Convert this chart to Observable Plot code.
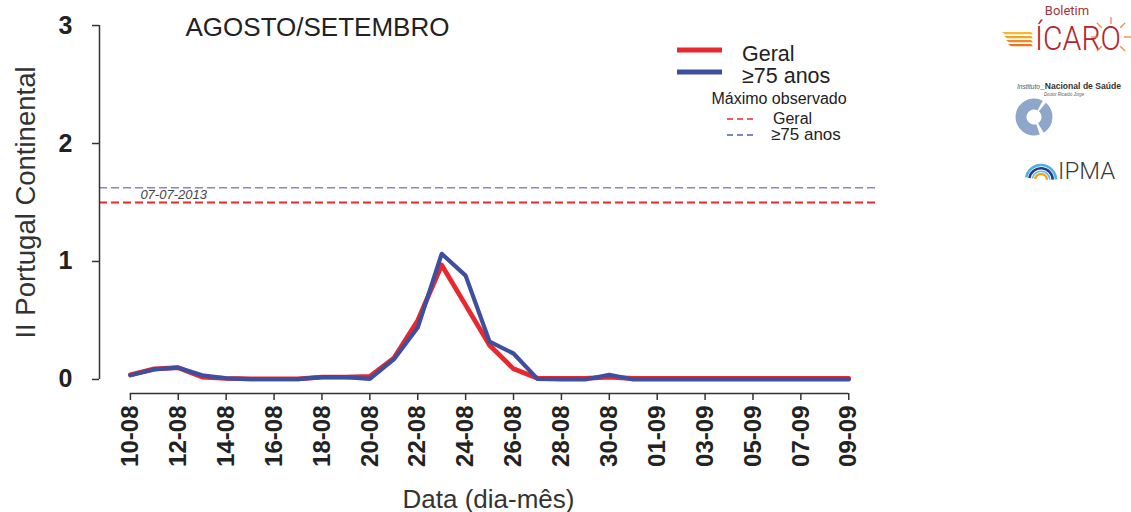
<!DOCTYPE html>
<html><head><meta charset="utf-8">
<script src="https://cdn.jsdelivr.net/npm/d3@7"></script>
<script src="https://cdn.jsdelivr.net/npm/@observablehq/plot@0.6"></script>
<style>
body{margin:0;background:#fff;font-family:"Liberation Sans",Arial,sans-serif;}
#wrap{position:relative;width:1131px;height:512px;overflow:hidden;background:#fff}
#wrap > svg{position:absolute;left:0;top:0}
</style></head><body><div id="wrap"></div>
<script>
// ---- data ----
const days = ["10-08","11-08","12-08","13-08","14-08","15-08","16-08","17-08","18-08","19-08","20-08",
  "21-08","22-08","23-08","24-08","25-08","26-08","27-08","28-08","29-08","30-08","31-08",
  "01-09","02-09","03-09","04-09","05-09","06-09","07-09","08-09","09-09"];
const geral = [0.04,0.09,0.10,0.02,0.01,0.005,0.005,0.005,0.02,0.02,0.025,
  0.18,0.50,0.97,0.63,0.29,0.09,0.01,0.01,0.01,0.02,0.008,
  0.008,0.008,0.008,0.008,0.008,0.008,0.008,0.008,0.008];
const idosos = [0.035,0.085,0.10,0.035,0.01,0.003,0.003,0.003,0.02,0.02,0.005,
  0.17,0.44,1.065,0.88,0.32,0.22,0.005,0,0,0.04,0,
  0,0,0,0,0,0,0,0,0];
const tickLabels = ["10-08","12-08","14-08","16-08","18-08","20-08","22-08","24-08","26-08",
  "28-08","30-08","01-09","03-09","05-09","07-09","09-09"];
const yTicks = [0,1,2,3];
const maxGeral = 1.5, maxIdosos = 1.625, maxDate = "07-07-2013";
const seriesNames = ["Geral","≥75 anos"];

const RED = "#e8282e", BLUE = "#3f4f9f";
const data = days.map((d,i)=>({i, d, geral: geral[i], idosos: idosos[i]}));
const tickIdx = tickLabels.map(t => days.indexOf(t));
const xDomain = [-1.29, 31.2], yDomain = [-0.119, 3.119];
const FONT = "'Liberation Sans', Arial, sans-serif";

const chart = Plot.plot({
  width: 1131, height: 512,
  marginLeft: 99, marginRight: 254, marginTop: 11, marginBottom: 119,
  x: {domain: xDomain, axis: null},
  y: {domain: yDomain, axis: null},
  style: {fontFamily: FONT, color: "#222", background: "white", overflow: "visible"},
  marks: [
    Plot.ruleY([maxIdosos], {stroke: "#8587c6", strokeWidth: 1.5, strokeDasharray: "8,4"}),
    Plot.ruleY([maxGeral], {stroke: RED, strokeWidth: 2, strokeDasharray: "8,4"}),
    Plot.text([maxDate], {x: () => 0, y: () => (maxGeral + maxIdosos) / 2, dx: 10, textAnchor: "start",
      fontSize: 13, fontStyle: "italic", fill: "#444"}),
    Plot.line(data, {x: "i", y: "geral", stroke: RED, strokeWidth: 4.8}),
    Plot.line(data, {x: "i", y: "idosos", stroke: BLUE, strokeWidth: 4.2}),
    Plot.ruleX([xDomain[0]], {y1: () => yTicks[0], y2: () => yTicks[yTicks.length-1], stroke: "#333", strokeWidth: 1.5}),
    Plot.ruleY([yDomain[0]], {x1: () => tickIdx[0], x2: () => tickIdx[tickIdx.length-1], stroke: "#333", strokeWidth: 1.5}),
    Plot.axisY({ticks: yTicks, tickSize: 7, tickPadding: 20, fontSize: 25, fontWeight: "bold",
      stroke: "#333", strokeWidth: 1.5, tickFormat: d => String(d), label: null, fill: "#222"}),
    Plot.axisX({ticks: tickIdx, tickFormat: i => days[i], tickRotate: -90, tickSize: 7, tickPadding: 5,
      fontSize: 24, fontWeight: "bold", stroke: "#333", strokeWidth: 1.5, label: null, fill: "#222"}),
    Plot.text(["AGOSTO/SETEMBRO"], {frameAnchor: "top-left", dx: 86, dy: 6, lineAnchor: "top",
      textAnchor: "start", fontSize: 26, fill: "#222"}),
    Plot.text(["II Portugal Continental"], {frameAnchor: "left", dx: -65, rotate: -90, lineAnchor: "bottom",
      textAnchor: "middle", fontSize: 27.5, fill: "#333"}),
    Plot.text(["Data (dia-mês)"], {frameAnchor: "bottom", dy: 114, lineAnchor: "bottom",
      textAnchor: "middle", fontSize: 26, fill: "#333"})
  ]
});
document.getElementById("wrap").appendChild(chart);

// ---- legend & logos overlay ----
const ov = d3.select("#wrap").append("svg").attr("width",1131).attr("height",512)
  .style("font-family", FONT);
const lg = ov.append("g");
lg.append("line").attr("x1",677).attr("x2",722).attr("y1",50).attr("y2",50).attr("stroke",RED).attr("stroke-width",5);
lg.append("line").attr("x1",677).attr("x2",722).attr("y1",72).attr("y2",72).attr("stroke",BLUE).attr("stroke-width",5);
lg.append("text").attr("x",742).attr("y",61).attr("font-size",21.5).attr("fill","#222").text(seriesNames[0]);
lg.append("text").attr("x",742).attr("y",83).attr("font-size",21.5).attr("fill","#222").text(seriesNames[1]);
lg.append("text").attr("x",779).attr("y",104).attr("font-size",16).attr("text-anchor","middle").attr("fill","#222").text("Máximo observado");
lg.append("line").attr("x1",727).attr("x2",755).attr("y1",119).attr("y2",119).attr("stroke",RED).attr("stroke-width",1.5).attr("stroke-dasharray","6,4");
lg.append("line").attr("x1",727).attr("x2",755).attr("y1",135).attr("y2",135).attr("stroke","#5060b0").attr("stroke-width",1.5).attr("stroke-dasharray","6,4");
lg.append("text").attr("x",773).attr("y",124).attr("font-size",16).attr("fill","#222").text(seriesNames[0]);
lg.append("text").attr("x",771).attr("y",140).attr("font-size",17).attr("fill","#222").text(seriesNames[1]);

// ÍCARO logo
const ic = ov.append("g");
ic.append("text").attr("x",1067).attr("y",15).attr("font-size",13).attr("text-anchor","middle")
  .attr("fill","#a8323a").attr("font-family","Roboto, sans-serif").text("Boletim");
const orange = ["#f7b733","#f5a02a","#f08a24","#ea7420"];
[32,36,40,44].forEach((y,k)=>{
  ic.append("polygon").attr("points",`${1002+k*2},${y} ${1031},${y} ${1033},${y+2.2} ${1005+k*2},${y+2.2}`)
    .attr("fill",orange[k]);
});
ic.append("text").attr("x",1035).attr("y",50).attr("font-size",34).attr("font-weight",300)
  .attr("font-family","Roboto, 'DejaVu Sans', sans-serif").attr("fill","#b3262e")
  .attr("textLength",86).attr("lengthAdjust","spacingAndGlyphs").text("ÍCARO");
const sx = 1111, sy = 37;
[0,45,90,135,225,270,315].forEach(a=>{
  const r = a*Math.PI/180;
  ic.append("line").attr("x1",sx+13*Math.sin(r)).attr("y1",sy-13*Math.cos(r))
    .attr("x2",sx+20*Math.sin(r)).attr("y2",sy-20*Math.cos(r))
    .attr("stroke","#ef8a3a").attr("stroke-width",1.3);
});

// INSA logo
const ins = ov.append("g");
ins.append("text").attr("x",1017).attr("y",89).attr("font-size",7).attr("font-style","italic").attr("fill","#555")
  .attr("textLength",23).attr("lengthAdjust","spacingAndGlyphs").text("Instituto");
ins.append("text").attr("x",1040).attr("y",89).attr("font-size",9.5).attr("font-weight","bold").attr("fill","#333")
  .attr("textLength",81).attr("lengthAdjust","spacingAndGlyphs").text("_Nacional de Saúde");
ins.append("text").attr("x",1044).attr("y",96).attr("font-size",6).attr("font-style","italic").attr("fill","#555")
  .attr("textLength",40).attr("lengthAdjust","spacingAndGlyphs").text("Doutor Ricardo Jorge");
const arc = d3.arc().innerRadius(7.5).outerRadius(18.5);
const deg = Math.PI/180;
ins.append("path").attr("transform","translate(1034,117)")
  .attr("d", arc({startAngle: 40*deg, endAngle: 148*deg})).attr("fill","#8ea6ca");
ins.append("path").attr("transform","translate(1034,117)")
  .attr("d", arc({startAngle: 162*deg, endAngle: 388*deg})).attr("fill","#8ea6ca");

// IPMA logo
const ip = ov.append("g");
const arcs = [[15,"#4fb0e4",2.6],[11.8,"#1e3f8a",2.6],[8.8,"#63b8e6",1.6],[6,"#f2a21c",2.4]];
arcs.forEach(([r,c,w])=>{
  ip.append("path").attr("transform","translate(1041,180)")
    .attr("d", d3.arc().innerRadius(r-w/2).outerRadius(r+w/2)({startAngle:-80*deg,endAngle:88*deg}))
    .attr("fill",c);
});
ip.append("text").attr("x",1058).attr("y",179).attr("font-size",24).attr("font-weight",300)
  .attr("font-family","Roboto, sans-serif").attr("fill","#3a3a3a").text("IPMA");
</script>
</body></html>
